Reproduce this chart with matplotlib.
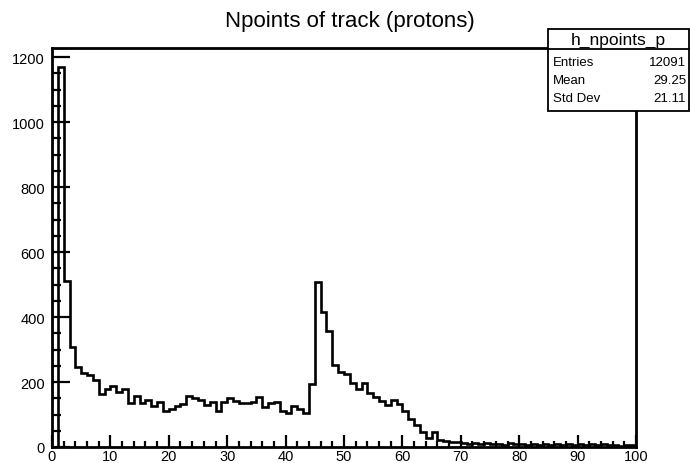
import matplotlib.pyplot as plt
import numpy as np
from matplotlib.patches import Rectangle
from matplotlib.lines import Line2D
from matplotlib.ticker import MultipleLocator

plt.rcParams['font.family'] = ['Liberation Sans', 'DejaVu Sans']

# Npoints per proton track, 100 unit-width bins from 0 to 100
bin_edges = np.arange(0, 101, 1)
counts = [
    0, 1170, 510, 307, 245, 228, 223, 207, 163, 178,
    189, 168, 178, 137, 156, 135, 145, 125, 140, 112,
    117, 125, 132, 156, 150, 144, 130, 138, 110, 138,
    150, 143, 135, 135, 139, 154, 122, 135, 140, 112,
    104, 125, 117, 106, 194, 509, 416, 358, 253, 232,
    225, 196, 180, 196, 166, 153, 143, 128, 144, 132,
    110, 86, 68, 45, 27, 45, 22, 18, 15, 14,
    12, 10, 13, 9, 11, 8, 10, 7, 11, 8,
    9, 6, 10, 7, 9, 5, 8, 6, 10, 7,
    8, 5, 9, 6, 8, 5, 7, 4, 6, 5,
]

hist_name = "h_npoints_p"
stat_labels = ["Entries", "Mean", "Std Dev"]
stat_values = ["12091", "29.25", "21.11"]

W, H = 690, 464
fig = plt.figure(figsize=(W / 100, H / 100), dpi=100)
ax = fig.add_axes([52 / W, 1 - 448 / H, (636 - 52) / W, (448 - 49) / H])

ax.stairs(counts, bin_edges, color="black", linewidth=1.9, baseline=0)

ax.set_xlim(0, 100)
ax.set_ylim(0, 1.05 * max(counts))
ax.xaxis.set_major_locator(MultipleLocator(10))
ax.xaxis.set_minor_locator(MultipleLocator(2))
ax.yaxis.set_major_locator(MultipleLocator(200))
ax.yaxis.set_minor_locator(MultipleLocator(50))
ax.tick_params(axis="x", which="both", direction="in", top=False, labelsize=10.5, pad=1.5, width=1.6)
ax.tick_params(axis="y", which="both", direction="in", right=False, labelsize=10.5, pad=5, width=1.6)
ax.tick_params(axis="x", which="major", length=8.5)
ax.tick_params(axis="x", which="minor", length=4.3)
ax.tick_params(axis="y", which="major", length=13)
ax.tick_params(axis="y", which="minor", length=6.5)
for sp in ax.spines.values():
    sp.set_linewidth(2.0)

fig.text(350 / W, 1 - 22 / H, "Npoints of track (protons)", ha="center", va="center", fontsize=16)

# statistics box
bx0, bx1, by0, by1, bsep = 548, 689, 30, 112, 50
fig.add_artist(Rectangle((bx0 / W, 1 - by1 / H), (bx1 - bx0) / W, (by1 - by0) / H,
                         transform=fig.transFigure, facecolor="white", edgecolor="black",
                         linewidth=1.3, zorder=5))
fig.add_artist(Line2D([bx0 / W, bx1 / W], [1 - bsep / H, 1 - bsep / H],
                      transform=fig.transFigure, color="black", linewidth=1.3, zorder=6))
fig.text((bx0 + bx1) / 2 / W, 1 - 40 / H, hist_name, ha="center", va="center", fontsize=12.5, zorder=7)
for i, (lab, val) in enumerate(zip(stat_labels, stat_values)):
    y = 1 - (63 + 18 * i) / H
    fig.text(553 / W, y, lab, ha="left", va="center", fontsize=9.5, zorder=7)
    fig.text(686 / W, y, val, ha="right", va="center", fontsize=9.5, zorder=7)

fig.savefig("out.png", dpi=100)
